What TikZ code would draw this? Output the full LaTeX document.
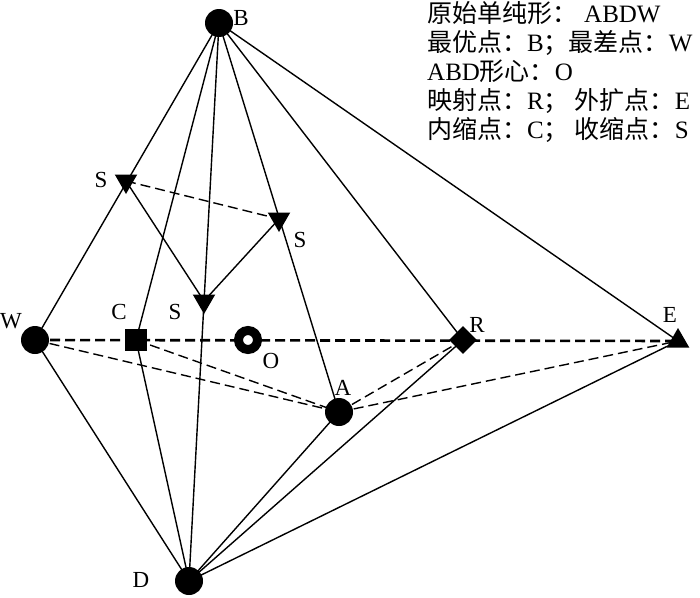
\documentclass[tikz,border=0pt]{standalone}
\usepackage{fontspec}
\setmainfont{Liberation Serif}
\newfontfamily\cjk{Noto Sans CJK SC}
\usetikzlibrary{shapes.geometric,backgrounds}
\begin{document}
\begin{tikzpicture}[x=1pt,y=-1pt,
  dot/.style={circle,fill=black,inner sep=0pt,minimum size=28pt},
  sq/.style={rectangle,fill=black,inner sep=0pt,minimum size=22pt},
  ring/.style={circle,draw=black,fill=white,line width=9pt,inner sep=0pt,minimum size=19pt},
  diam/.style={diamond,fill=black,inner sep=0pt,minimum width=28pt,minimum height=28pt},
  tri/.style={regular polygon,regular polygon sides=3,fill=black,inner sep=0pt,minimum size=26pt},
  dtri/.style={tri,shape border rotate=180},
  lbl/.style={font=\fontsize{23}{23}\selectfont,inner sep=0pt},
  leg/.style={font=\fontsize{25}{25}\selectfont,inner sep=0pt,anchor=base west,text height=19pt,text depth=4pt},
  edge/.style={line width=1.4pt},
  dedge/.style={line width=1.4pt,dash pattern=on 10pt off 5pt},
  thickdedge/.style={line width=2.6pt,dash pattern=on 10pt off 5pt}
]
\useasboundingbox (0,0) rectangle (700,597);
% markers
\node[dot] (B) at (219,23) {};
\node[dot] (W) at (35,340) {};
\node[dot] (D) at (189,581) {};
\node[dot] (A) at (339,412) {};
\node[sq] (C) at (136,340) {};
\node[ring] (O) at (248,340) {};
\node[diam] (R) at (463,340) {};
\node[tri] (E) at (678,341) {};
\node[dtri] (S1) at (126,181) {};
\node[dtri] (S2) at (279,219) {};
\node[dtri] (S3) at (204,301) {};
% connectors
\begin{scope}[on background layer]
\draw[edge] (B.center) -- (W.center);
\draw[edge] (B.center) -- (C.center);
\draw[edge] (B.center) -- (D.center);
\draw[edge] (B.center) -- (A.center);
\draw[edge] (B.center) -- (R.center);
\draw[edge] (B.center) -- (E.center);
\draw[edge] (D.center) -- (W.center);
\draw[edge] (D.center) -- (C.center);
\draw[edge] (D.center) -- (A.center);
\draw[edge] (D.center) -- (R.center);
\draw[edge] (D.center) -- (E.center);
\draw[edge] (S1.center) -- (S3.center);
\draw[edge] (S2.center) -- (S3.center);
\draw[dedge] (S1.center) -- (S2.center);
\draw[dedge] (W.center) -- (A.center);
\draw[dedge] (C.center) -- (A.center);
\draw[dedge] (A.center) -- (R.center);
\draw[dedge] (A.center) -- (E.center);
\draw[thickdedge] (W.center) -- (E.center);
\end{scope}
% labels
\node[lbl] (lB) at (241,18) {B};
\node[lbl] (lW) at (11,321) {W};
\node[lbl] (lC) at (119,312) {C};
\node[lbl] (lS3) at (175,312) {S};
\node[lbl] (lO) at (271,361) {O};
\node[lbl] (lS1) at (101,180) {S};
\node[lbl] (lS2) at (300,240) {S};
\node[lbl] (lA) at (343,388) {A};
\node[lbl] (lR) at (477,325) {R};
\node[lbl] (lE) at (670,315) {E};
\node[lbl] (lD) at (141,580) {D};
% legend
\node[leg] (g1) at (427,22) {{\cjk 原始单纯形：}\hspace{7pt}ABDW};
\node[leg] (g2) at (427,51) {{\cjk 最优点：}B{\cjk ；最差点：}W};
\node[leg] (g3) at (427,80) {ABD{\cjk 形心：}O};
\node[leg] (g4) at (427,109) {{\cjk 映射点：}R{\cjk ；}\hspace{6pt}{\cjk 外扩点：}E};
\node[leg] (g5) at (427,138) {{\cjk 内缩点：}C{\cjk ；}\hspace{6pt}{\cjk 收缩点：}S};
\end{tikzpicture}
\end{document}
